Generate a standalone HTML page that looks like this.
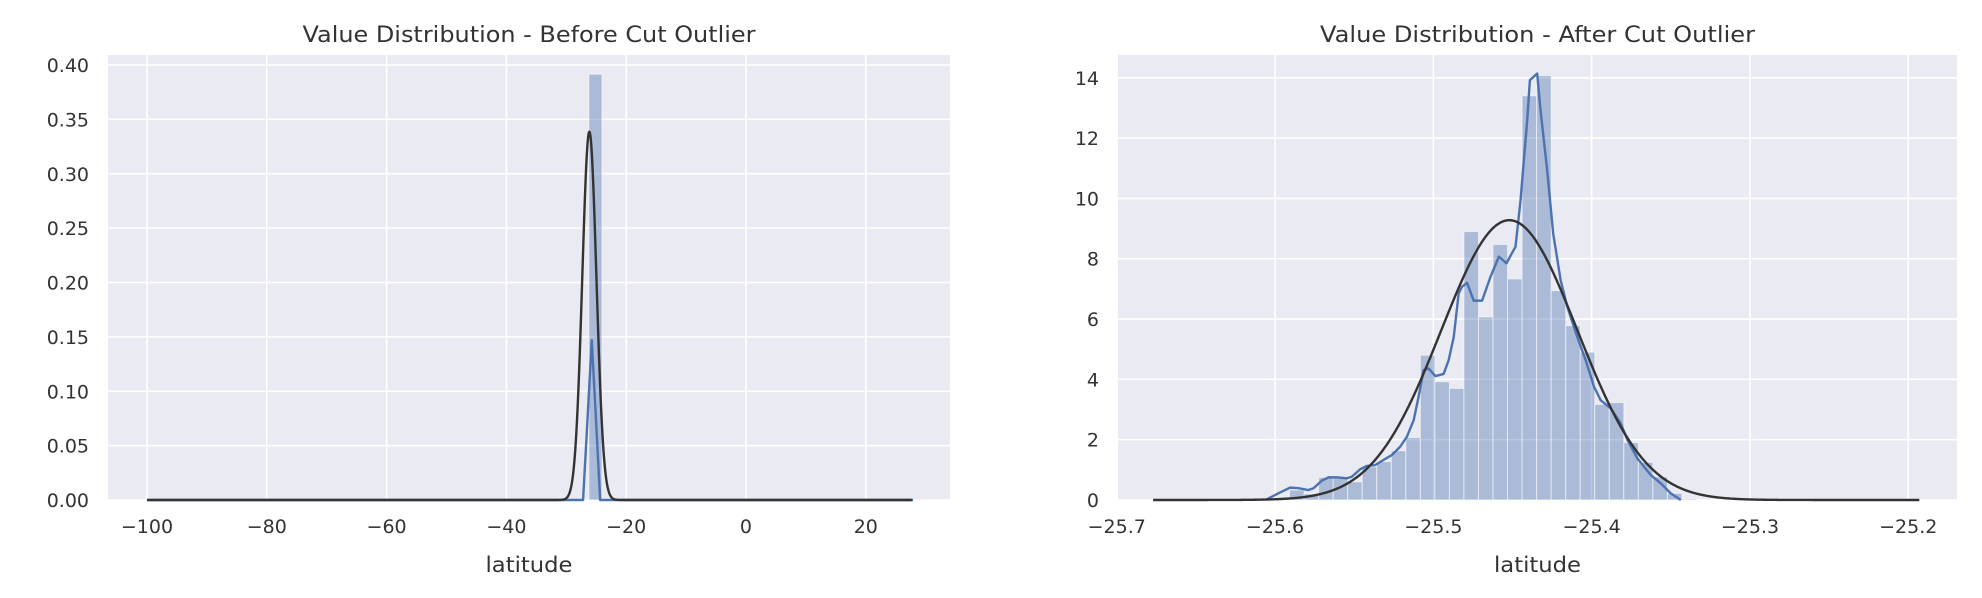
<!DOCTYPE html>
<html><head><meta charset="utf-8"><style>
html,body{margin:0;padding:0;background:#fff;width:1982px;height:598px;overflow:hidden}
svg text{font-family:"DejaVu Sans","Liberation Sans",sans-serif;fill:#333}
</style></head><body>
<svg id="fig" width="1982" height="598" viewBox="0 0 1982 598" xmlns="http://www.w3.org/2000/svg"></svg>
<script>
// ---------- Left chart data ----------
const leftXTicks = [-100, -80, -60, -40, -20, 0, 20];
const leftXTickLabels = ["\u2212100", "\u221280", "\u221260", "\u221240", "\u221220", "0", "20"];
const leftYTicks = [0, 0.05, 0.10, 0.15, 0.20, 0.25, 0.30, 0.35, 0.40];
const leftYTickLabels = ["0.00", "0.05", "0.10", "0.15", "0.20", "0.25", "0.30", "0.35", "0.40"];
const leftBinStart = -100;
const leftBinWidth = 2.17;
const leftBinIndex = [34];
const leftBinValues = [0.3915];
const leftKdeX = [-100, -27.2, -26.5, -25.75, -25.0, -24.35, 27.9];
const leftKdeY = [0, 0, 0.07, 0.147, 0.07, 0, 0];
const leftNormMean = [-26.15];
const leftNormStd = [1.178];
const leftRange = [-100, 27.9];

// ---------- Right chart data ----------
const rightXTicks = [-25.7, -25.6, -25.5, -25.4, -25.3, -25.2];
const rightXTickLabels = ["\u221225.7", "\u221225.6", "\u221225.5", "\u221225.4", "\u221225.3", "\u221225.2"];
const rightYTicks = [0, 2, 4, 6, 8, 10, 12, 14];
const rightYTickLabels = ["0", "2", "4", "6", "8", "10", "12", "14"];
const rightBinStart = -25.600;
const rightBinWidth = 0.00918;
const rightBinValues = [0.05, 0.33, 0.2, 0.75, 0.72, 0.6, 1.1, 1.27, 1.63, 2.07, 4.8, 3.92, 3.7, 8.9, 6.07, 8.47, 7.33, 13.4, 14.07, 6.94, 5.78, 4.9, 3.17, 3.23, 1.9, 1.25, 0.77, 0.22, 0.03];
const rightKdeX = [-25.6053,-25.5979,-25.5905,-25.5852,-25.5789,-25.5757,-25.5705,-25.5662,-25.5610,-25.5546,-25.5515,-25.5462,-25.5420,-25.5367,-25.5314,-25.5262,-25.5209,-25.5167,-25.5124,-25.5093,-25.5061,-25.5030,-25.4987,-25.4935,-25.4903,-25.4871,-25.4840,-25.4819,-25.4787,-25.4745,-25.4692,-25.4639,-25.4586,-25.4538,-25.4481,-25.4449,-25.4407,-25.4390,-25.4344,-25.4323,-25.4281,-25.4243,-25.4196,-25.4154,-25.4091,-25.4038,-25.3985,-25.3943,-25.3880,-25.3816,-25.3774,-25.3711,-25.3627,-25.3563,-25.3500,-25.3437];
const rightKdeY = [0.02,0.22,0.41,0.39,0.33,0.39,0.64,0.75,0.75,0.72,0.77,1.02,1.13,1.16,1.33,1.49,1.77,2.10,2.65,3.43,4.31,4.36,4.11,4.18,4.64,5.41,6.85,7.07,7.20,6.61,6.61,7.40,8.07,7.85,8.40,9.94,12.60,13.92,14.14,12.93,10.94,8.84,7.29,6.41,5.41,4.64,3.76,3.31,3.04,2.54,1.99,1.38,0.83,0.55,0.22,0];
const rightNormMean = [-25.452];
const rightNormStd = [0.043];
const rightRange = [-25.677, -25.193];

const NS = "http://www.w3.org/2000/svg";
const svg = document.getElementById('fig');
function mk(tag, attrs, parent) {
  const e = document.createElementNS(NS, tag);
  for (const k in attrs) e.setAttribute(k, attrs[k]);
  (parent || svg).appendChild(e);
  return e;
}
function makeAxes(cfg) {
  const g = mk('g', {});
  
  
  const sx = v => cfg.x0 + (v - cfg.xmin) / (cfg.xmax - cfg.xmin) * (cfg.x1 - cfg.x0);
  const sy = v => cfg.y1 - (v - 0) / (cfg.ymax) * (cfg.y1 - cfg.y0);
  const bg = mk('rect', {x: cfg.x0, y: cfg.y0, width: cfg.x1 - cfg.x0, height: cfg.y1 - cfg.y0, fill: '#eaeaf2'}, g);
  
  
  cfg.xticks.forEach((t, i) => {
    const x = sx(t);
    const gl = mk('line', {x1: x, x2: x, y1: cfg.y0, y2: cfg.y1, stroke: '#fff', 'stroke-width': 1.6}, g);
    
    
    const tx = mk('text', {x: x, y: 533, 'font-size': 19, 'text-anchor': 'middle'}, g);
    
    
    tx.textContent = cfg.xlabels[i];
  });
  cfg.yticks.forEach((t, i) => {
    const y = sy(t);
    const gl = mk('line', {x1: cfg.x0, x2: cfg.x1, y1: y, y2: y, stroke: '#fff', 'stroke-width': 1.6}, g);
    
    
    const tx = mk('text', {x: cfg.x0 - 19, y: y + 7, 'font-size': 19, 'text-anchor': 'end'}, g);
    
    
    tx.textContent = cfg.ylabels[i];
  });
  cfg.bars.forEach(b => {
    const x = sx(b.x), w = sx(b.x + b.w) - x, y = sy(b.v);
    const r = mk('rect', {x: x, y: y, width: w, height: sy(0) - y, fill: 'rgba(76,114,176,0.4)', stroke: 'rgba(255,255,255,0.55)', 'stroke-width': 1}, g);
    
    
  });
  const kd = cfg.kdeX.map((v, i) => sx(v).toFixed(2) + ',' + sy(cfg.kdeY[i]).toFixed(2)).join(' ');
  const kp = mk('polyline', {points: kd, fill: 'none', stroke: '#4c72b0', 'stroke-width': 2.4, 'stroke-linejoin': 'round'}, g);
  
  
  const m = cfg.mean[0], s = cfg.std[0];
  const pts = [];
  const N = 600;
  const xs = [];
  for (let i = 0; i <= N; i++) xs.push(cfg.range[0] + (cfg.range[1] - cfg.range[0]) * i / N);
  for (let i = 0; i <= 200; i++) xs.push(m - 5 * s + 10 * s * i / 200);
  xs.sort((a, b) => a - b);
  xs.forEach(x => {
    if (x < cfg.range[0] || x > cfg.range[1]) return;
    const d = Math.exp(-0.5 * ((x - m) / s) ** 2) / (s * Math.sqrt(2 * Math.PI));
    pts.push(sx(x).toFixed(2) + ',' + sy(d).toFixed(2));
  });
  const np = mk('polyline', {points: pts.join(' '), fill: 'none', stroke: '#333', 'stroke-width': 2.4, 'stroke-linejoin': 'round'}, g);
  
  
  const cx = (cfg.x0 + cfg.x1) / 2;
  const tt = mk('text', {x: cx, y: 42, 'font-size': 22, 'text-anchor': 'middle', textLength: cfg.titleLen, lengthAdjust: 'spacingAndGlyphs'}, g);
  
  
  tt.textContent = cfg.title;
  const xl = mk('text', {x: cx, y: 572, 'font-size': 21, 'text-anchor': 'middle', textLength: 87, lengthAdjust: 'spacingAndGlyphs'}, g);
  
  
  xl.textContent = 'latitude';
}

makeAxes({
  name: 'before-cut-chart', x0: 108, x1: 950, y0: 55, y1: 500,
  xmin: -106.51, xmax: 34.06, ymax: 0.4092,
  xticks: leftXTicks, xlabels: leftXTickLabels, yticks: leftYTicks, ylabels: leftYTickLabels,
  bars: leftBinIndex.map((k, i) => ({x: leftBinStart + k * leftBinWidth, w: leftBinWidth, v: leftBinValues[i]})),
  kdeX: leftKdeX, kdeY: leftKdeY, mean: leftNormMean, std: leftNormStd, range: leftRange,
  title: 'Value Distribution - Before Cut Outlier', titleLen: 453
});
makeAxes({
  name: 'after-cut-chart', x0: 1118, x1: 1957, y0: 55, y1: 500,
  xmin: -25.6992, xmax: -25.1692, ymax: 14.755,
  xticks: rightXTicks, xlabels: rightXTickLabels, yticks: rightYTicks, ylabels: rightYTickLabels,
  bars: rightBinValues.map((v, i) => ({x: rightBinStart + i * rightBinWidth, w: rightBinWidth, v: v})),
  kdeX: rightKdeX, kdeY: rightKdeY, mean: rightNormMean, std: rightNormStd, range: rightRange,
  title: 'Value Distribution - After Cut Outlier', titleLen: 435
});
</script>
</body></html>
